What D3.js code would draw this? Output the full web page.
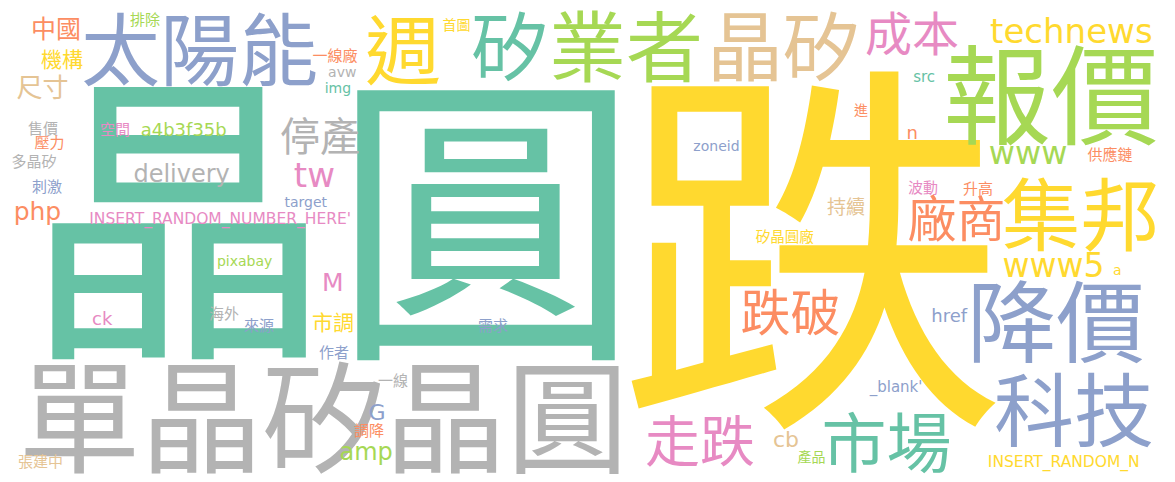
<!DOCTYPE html>
<html>
<head>
<meta charset="utf-8">
<script src="https://cdn.jsdelivr.net/npm/d3@7"></script>
<style>
html, body { margin: 0; padding: 0; background: #fff; overflow: hidden; }
</style>
</head>
<body>
<svg id="chart" width="1175" height="482"></svg>
<script>
//Words of the cloud, their weight (font size in the reference layout) and colour group.
var words = ['晶圓', '跌', '單晶矽晶圓', '太陽能', '週', '首圖', '矽', '業者', '晶矽', '成本',
	'technews', '報價', 'src', '進', 'n', 'www', '供應鏈', '波動', '升高', '持續',
	'廠商', '集邦', '矽晶圓廠', 'zoneid', 'www5', 'a', '降價', '科技', 'href', "_blank'",
	'跌破', '走跌', 'cb', '產品', '市場', 'INSERT_RANDOM_N', '中國', '排除', '機構', '尺寸',
	'一線廠', 'avw', 'img', '停產', '售價', '壓力', '多晶矽', '刺激', 'php', '空間',
	'a4b3f35b', 'delivery', 'tw', 'target', "INSERT_RANDOM_NUMBER_HERE'", 'pixabay', 'ck', '海外', '來源', 'M',
	'市調', '作者', '一線', 'G', '調降', 'amp', '張建中', '需求'];
var weights = [308, 390, 122, 79, 76, 14, 76, 77, 76, 47,
	34, 108, 15, 14, 18, 32, 15, 15, 15, 19,
	49, 79, 14.5, 14, 33, 14, 89, 80, 18, 15,
	50, 55, 22, 14, 65, 15.5, 25, 15, 21, 26,
	15, 14, 14, 40, 15, 15, 15, 15, 25, 15,
	18, 24, 34, 14, 15.5, 14, 18, 15, 15, 25,
	21, 15, 15, 22, 15, 24, 15, 15];
var colorKeys = ['teal', 'yellow', 'gray', 'blue', 'yellow', 'yellow', 'teal', 'green', 'tan', 'pink',
	'yellow', 'green', 'teal', 'orange', 'orange', 'green', 'orange', 'pink', 'orange', 'tan',
	'orange', 'yellow', 'yellow', 'blue', 'yellow', 'yellow', 'blue', 'blue', 'blue', 'blue',
	'orange', 'pink', 'tan', 'green', 'teal', 'yellow', 'orange', 'green', 'yellow', 'tan',
	'orange', 'gray', 'teal', 'gray', 'gray', 'orange', 'gray', 'blue', 'orange', 'pink',
	'green', 'gray', 'pink', 'blue', 'pink', 'green', 'pink', 'gray', 'blue', 'pink',
	'yellow', 'blue', 'gray', 'blue', 'orange', 'green', 'tan', 'blue'];
//Where the centre of each word sits in the reference layout (pixels of a 1175 x 482 canvas).
var layoutX = [332, 813, 322, 200, 403, 456, 509, 626, 785, 912,
	1071, 1052, 924, 861, 912, 1028, 1110, 923, 978, 846,
	956, 1080, 785, 716, 1053, 1117, 1058, 1074, 950, 895,
	790, 700, 786, 811, 887, 1064, 56, 145, 62, 42,
	335, 342, 338, 320, 43, 49, 34, 47, 38, 115,
	184, 182, 314, 306, 220, 245, 103, 224, 259, 333,
	333, 334, 393, 377, 369, 366, 40, 493];
var layoutY = [224, 251, 417, 49, 50, 25, 46, 46, 46, 33,
	30, 95, 77, 110, 134, 155, 154, 188, 188, 206,
	218, 214, 236, 145, 264, 271, 322, 410, 315, 388,
	312, 440, 439, 456, 442, 463, 28, 20, 59, 87,
	55, 73, 89, 136, 128, 143, 161, 187, 213, 130,
	129, 175, 175, 203, 220, 262, 318, 313, 325, 282,
	322, 352, 380, 412, 430, 455, 462, 325];

var svg = d3.select('svg');
var width = +svg.attr('width'), height = +svg.attr('height');
//CJK glyphs fall back to Noto Sans CJK; the latin face in front keeps the line box tight.
var cjkFamily = '"Liberation Sans", "Noto Sans CJK TC", sans-serif';
var latinFamily = '"DejaVu Sans", "Noto Sans CJK TC", sans-serif';
function familyOf(w) { return /[\u3400-\u9fff]/.test(w) ? cjkFamily : latinFamily; }

//Scales from the reference layout to the drawing.
var xScale = d3.scaleLinear().domain([0, 1175]).range([0, width]);
var yScale = d3.scaleLinear().domain([0, 482]).range([0, height]);
var sizeScale = d3.scaleLinear().domain([0, 482]).range([0, height]);
var color = d3.scaleOrdinal()
	.domain(['teal', 'orange', 'blue', 'pink', 'green', 'yellow', 'tan', 'gray'])
	.range(d3.schemeSet2);

//Canvas is used only to measure the ink box of each word so it can be centred.
var ctx = document.createElement('canvas').getContext('2d');

var theData = words.map(function(w, i) {
	var size = sizeScale(weights[i]), fam = familyOf(w);
	ctx.font = size + 'px ' + fam;
	var m = ctx.measureText(w);
	var cx = xScale(layoutX[i]), cy = yScale(layoutY[i]);
	return {
		text: w,
		size: size,
		family: fam,
		color: color(colorKeys[i]),
		x: cx - (m.actualBoundingBoxRight - m.actualBoundingBoxLeft) / 2,
		y: cy + (m.actualBoundingBoxAscent - m.actualBoundingBoxDescent) / 2
	};
});

svg.append('rect')
	.attr('width', width)
	.attr('height', height)
	.attr('fill', '#fff');

svg.append('g')
	.selectAll('text')
	.data(theData)
	.enter().append('text')
		.attr('x', function(d) { return d.x; })
		.attr('y', function(d) { return d.y; })
		.attr('font-family', function(d) { return d.family; })
		.attr('font-size', function(d) { return d.size; })
		.attr('fill', function(d) { return d.color; })
		.text(function(d) { return d.text; });
</script>
</body>
</html>
